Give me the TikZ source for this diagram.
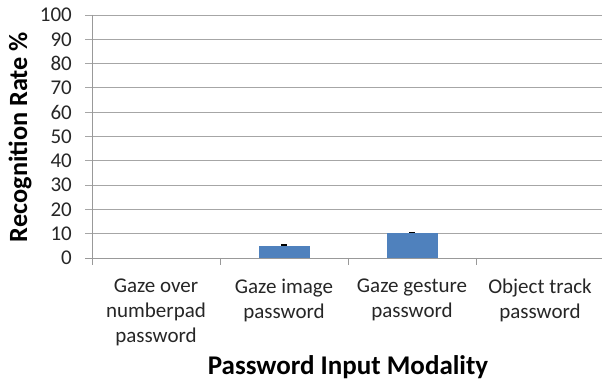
\documentclass[tikz,border=0pt]{standalone}
\usepackage{fontspec}
\setmainfont{Carlito}
\begin{document}
\begin{tikzpicture}[x=1pt,y=1pt,
  gridln/.style={draw=black!35,line width=0.9pt},
  axisln/.style={draw=black!40,line width=0.9pt},
  ticklab/.style={font=\fontsize{21}{25}\selectfont,text=black!85,inner sep=0pt},
  catlab/.style={font=\fontsize{21}{25}\selectfont,text=black!85,align=center,inner sep=0pt,anchor=north},
  titlelab/.style={font=\fontsize{27}{30}\selectfont\bfseries,inner sep=0pt},
  ytitlelab/.style={font=\fontsize{26.3}{30}\selectfont\bfseries,inner sep=0pt},
  barbox/.style={fill=barblue,draw=none},
  errbar/.style={draw=black,line width=1.6pt}]
\definecolor{barblue}{HTML}{4F81BD}
\useasboundingbox (0,0) rectangle (602,385);
% gridlines (value v at y = 127 + 2.43 v)
\foreach \v in {10,20,...,100} {
  \draw[gridln] (85,{127+2.43*\v}) -- (602,{127+2.43*\v});
  \node[ticklab,anchor=east] (t\v) at (72,{127+2.43*\v}) {\v};
}
\node[ticklab,anchor=east] (t0) at (72,127) {0};
% axes
\draw[axisln] (92,370) -- (92,120);
\draw[axisln] (85,127) -- (602,127);
\foreach \x in {220,348,476} \draw[axisln] (\x,127) -- (\x,120);
% bars
\node[barbox,minimum width=51pt,minimum height={2.43*5},inner sep=0pt,anchor=south] (b2) at (284,127) {};
\node[barbox,minimum width=51pt,minimum height={2.43*10},inner sep=0pt,anchor=south] (b3) at (412,127) {};
\coordinate (e2l) at ([xshift=-3pt,yshift=0.6pt]b2.north);
\coordinate (e2r) at ([xshift=3pt,yshift=0.6pt]b2.north);
\coordinate (e3l) at ([xshift=-3pt,yshift=0.6pt]b3.north);
\coordinate (e3r) at ([xshift=3pt,yshift=0.6pt]b3.north);
\draw[errbar] (e2l) -- (e2r);
\draw[errbar] (e3l) -- (e3r);
% category labels
\node[catlab] (c1) at (156,106) {Gaze over\\numberpad\\password};
\node[catlab] (c2) at (284,106) {Gaze image\\password};
\node[catlab] (c3) at (412,106) {Gaze gesture\\password};
\node[catlab] (c4) at (540,106) {Object track\\password};
% titles
\node[titlelab,anchor=base] (xt) at (348,10) {Password Input Modality};
\node[ytitlelab,rotate=90,anchor=base] (yt) at (27,248) {Recognition Rate \%};
\end{tikzpicture}
\end{document}
